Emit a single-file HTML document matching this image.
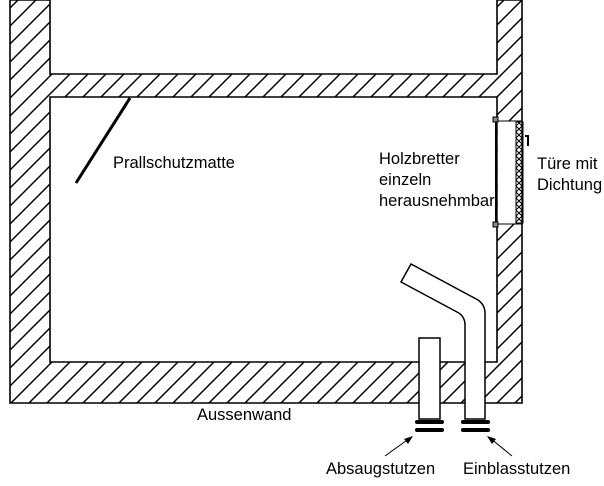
<!DOCTYPE html>
<html><head><meta charset="utf-8"><style>
html,body{margin:0;padding:0;background:#fff;}
svg{display:block;}
text{font-family:"Liberation Sans",Arial,sans-serif;font-size:16.5px;fill:#000;}
</style></head><body>
<svg width="604" height="486" viewBox="0 0 604 486" xmlns="http://www.w3.org/2000/svg">
<defs>
<pattern id="h" patternUnits="userSpaceOnUse" width="18" height="18">
<path d="M-2,20 L20,-2 M-4,4 L4,-4 M14,22 L22,14" stroke="#000" stroke-width="1.5"/>
</pattern>
<pattern id="x" patternUnits="userSpaceOnUse" width="6" height="6">
<path d="M0,0 L6,6 M6,0 L0,6" stroke="#000" stroke-width="1"/>
</pattern>
</defs>
<path fill-rule="evenodd" fill="url(#h)" stroke="#000" stroke-width="1.6"
 d="M10,0 L10,403 L522,403 L522,0 L497,0 L497,74 L50,74 L50,0 Z M50,97 L497,97 L497,362 L50,362 Z"/>
<rect x="497.8" y="121" width="23.5" height="103" fill="#fff"/>
<line x1="497" y1="121" x2="522" y2="121" stroke="#000" stroke-width="1"/>
<line x1="497" y1="224" x2="522" y2="224" stroke="#000" stroke-width="1"/>
<line x1="496" y1="120" x2="496" y2="225" stroke="#000" stroke-width="2"/>
<rect x="516" y="122" width="7" height="101" fill="url(#x)" stroke="#000" stroke-width="1"/>
<rect x="493" y="117" width="5" height="5" fill="#888" stroke="#000" stroke-width="1"/>
<rect x="493" y="222" width="5" height="5" fill="#888" stroke="#000" stroke-width="1"/>
<path d="M525,136 L528,136 L528,146" stroke="#000" stroke-width="2" fill="none"/>
<line x1="130" y1="98" x2="76" y2="183" stroke="#000" stroke-width="3"/>
<rect x="419" y="338" width="21" height="81" fill="#fff" stroke="#000" stroke-width="1.5"/>
<rect x="415" y="420" width="29" height="4" rx="2" fill="#000"/>
<rect x="415" y="428" width="29" height="4" rx="2" fill="#000"/>
<path d="M465,419 L465,325 Q465,316 457,312 L401,282 L411,264 L478,300 Q485,305 485,313 L485,419 Z" fill="#fff" stroke="#000" stroke-width="1.5"/>
<rect x="461" y="420" width="29" height="4" rx="2" fill="#000"/>
<rect x="461" y="428" width="29" height="4" rx="2" fill="#000"/>
<line x1="385" y1="456" x2="410" y2="438" stroke="#000" stroke-width="1"/>
<path d="M413,436 L404,439 L408,444 Z" fill="#000"/>
<line x1="512" y1="456" x2="490" y2="438" stroke="#000" stroke-width="1"/>
<path d="M487,436 L492,444 L496,439 Z" fill="#000"/>
<text x="113" y="168">Prallschutzmatte</text>
<text x="379" y="164">Holzbretter</text>
<text x="379" y="185">einzeln</text>
<text x="379" y="206">herausnehmbar</text>
<text x="537" y="169">Türe mit</text>
<text x="537" y="190">Dichtung</text>
<text x="197" y="420">Aussenwand</text>
<text x="326" y="474">Absaugstutzen</text>
<text x="463" y="474">Einblasstutzen</text>
</svg>
</body></html>
